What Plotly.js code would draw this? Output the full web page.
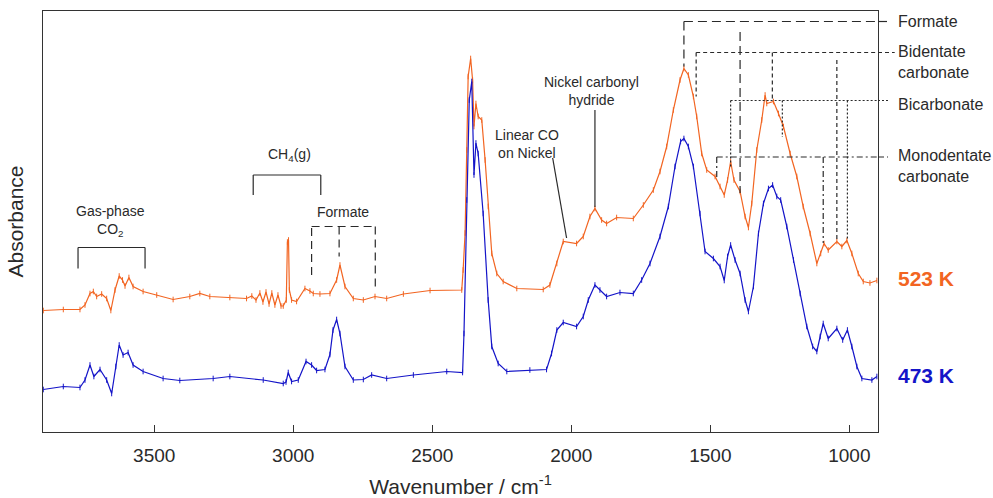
<!DOCTYPE html>
<html>
<head>
<meta charset="utf-8">
<script src="https://cdn.plot.ly/plotly-3.0.1.min.js"></script>
<style>
  html, body { margin: 0; padding: 0; background: #fff; }
  #chart { width: 993px; height: 498px; }
</style>
</head>
<body>
<div id="chart"></div>
<script>
// DRIFTS spectra recorded at two temperatures (offset for clarity)
const wave523 = [3899,3827,3767,3749,3731,3719,3707,3689,3671,3656,
  3641,3626,3614,3605,3591,3576,3540,3491,3432,3372,
  3336,3300,3228,3168,3149,3134,3120,3109,3098,3087,
  3077,3066,3055,3044,3036,3025,3021,3017,3014,3006,
  2988,2958,2940,2928,2904,2868,2844,2832,2814,2784,
  2748,2706,2664,2604,2508,2394,2389,2382,2376,2371,
  2362,2355,2350,2343,2335,2322,2310,2299,2286,2268,
  2245,2196,2101,2077,2052,2029,1981,1957,1933,1915,
  1891,1873,1837,1777,1741,1705,1681,1657,1633,1609,
  1595,1579,1561,1549,1531,1513,1483,1465,1450,1438,
  1427,1415,1393,1375,1363,1351,1333,1315,1303,1297,
  1273,1255,1237,1213,1189,1166,1141,1117,1103,1091,
  1076,1045,1027,1009,991,968,950,926,901];
const abs523 = [0.243,0.245,0.245,0.254,0.277,0.281,0.271,0.276,0.267,0.243,
  0.284,0.312,0.304,0.292,0.309,0.291,0.281,0.274,0.265,0.271,
  0.277,0.271,0.269,0.267,0.272,0.264,0.278,0.260,0.280,0.256,
  0.278,0.254,0.274,0.252,0.252,0.264,0.380,0.384,0.284,0.264,
  0.261,0.287,0.282,0.277,0.276,0.277,0.304,0.334,0.291,0.267,
  0.264,0.271,0.267,0.276,0.283,0.284,0.324,0.398,0.564,0.711,
  0.747,0.704,0.611,0.657,0.631,0.624,0.544,0.451,0.357,0.317,
  0.301,0.287,0.285,0.294,0.337,0.381,0.377,0.391,0.431,0.447,
  0.424,0.417,0.429,0.427,0.454,0.484,0.521,0.571,0.644,0.704,
  0.727,0.714,0.671,0.631,0.557,0.524,0.511,0.491,0.474,0.504,
  0.541,0.504,0.481,0.431,0.409,0.457,0.564,0.624,0.674,0.657,
  0.661,0.637,0.611,0.557,0.511,0.451,0.397,0.337,0.357,0.377,
  0.364,0.381,0.371,0.383,0.357,0.317,0.301,0.298,0.303];

const wave473 = [3899,3827,3767,3749,3731,3717,3695,3671,3653,3638,
  3626,3612,3594,3576,3540,3468,3408,3288,3228,3108,
  3036,3026,3018,3006,2982,2954,2934,2916,2886,2868,
  2857,2844,2832,2814,2784,2748,2718,2664,2568,2448,
  2391,2386,2376,2367,2358,2355,2350,2343,2335,2317,
  2299,2286,2263,2232,2149,2089,2071,2052,2029,1981,
  1957,1939,1915,1897,1873,1825,1777,1747,1717,1681,
  1651,1627,1607,1595,1579,1561,1537,1519,1489,1465,
  1450,1438,1427,1411,1393,1375,1363,1345,1327,1309,
  1291,1276,1261,1247,1225,1201,1177,1153,1132,1117,
  1105,1094,1076,1045,1024,1007,991,973,955,919,901];
const abs473 = [0.085,0.091,0.089,0.104,0.134,0.111,0.125,0.104,0.077,0.131,
  0.174,0.154,0.159,0.134,0.121,0.107,0.103,0.107,0.111,0.104,
  0.097,0.100,0.119,0.101,0.104,0.141,0.134,0.123,0.125,0.155,
  0.204,0.225,0.197,0.131,0.104,0.105,0.114,0.107,0.114,0.121,
  0.119,0.197,0.464,0.664,0.701,0.644,0.514,0.578,0.557,0.437,
  0.264,0.171,0.137,0.121,0.124,0.125,0.157,0.204,0.219,0.211,
  0.231,0.264,0.294,0.284,0.271,0.279,0.277,0.304,0.337,0.391,
  0.451,0.531,0.581,0.587,0.571,0.531,0.437,0.361,0.347,0.331,
  0.303,0.351,0.374,0.344,0.317,0.264,0.241,0.291,0.397,0.457,
  0.487,0.494,0.471,0.464,0.411,0.344,0.277,0.211,0.171,0.161,
  0.191,0.217,0.187,0.207,0.184,0.204,0.171,0.131,0.107,0.104,0.111];

const seriesNames = ['523 K', '473 K'];

// Band assignments in the carbonate / formate region (wavenumbers, cm-1)
const bandLabels = ['Formate', 'Bidentate<br>carbonate', 'Bicarbonate', 'Monodentate<br>carbonate'];
const formateBands = [1595, 1393];
const bidentateBands = [1551, 1277, 1045];
const bicarbonateBands = [1427, 1241, 1007];
const monodentateBands = [1477, 1094];

const ORANGE = '#F26522';
const BLUE = '#1414C8';
const INK = '#2a2a2a';
const FONT = 'Arial, "Liberation Sans", Helvetica, sans-serif';
const X_RANGE = [3900, 897];
const Y_RANGE = [0, 0.842];

function spectrum(x, y, name, color) {
  return {
    x: x, y: y, name: name, type: 'scatter', mode: 'lines+markers',
    line: { color: color, width: 1.2 },
    marker: { symbol: 'line-ns-open', size: 4, line: { color: color, width: 1 } },
    hoverinfo: 'x+y+name'
  };
}

const traces = [
  spectrum(wave523, abs523, seriesNames[0], ORANGE),
  spectrum(wave473, abs473, seriesNames[1], BLUE)
];

const shapes = [];
function seg(x0, y0, x1, y1, dash) {
  shapes.push({ type: 'line', xref: 'x', yref: 'y', x0: x0, y0: y0, x1: x1, y1: y1,
    line: { color: INK, width: 1.2, dash: dash || 'solid' } });
}
function bracket(x0, x1, top, bottom0, bottom1, dash) {
  seg(x0, bottom0, x0, top, dash);
  seg(x0, top, x1, top, dash);
  seg(x1, top, x1, bottom1, dash);
}

// gas-phase CO2 and CH4 brackets
bracket(3774, 3533, 0.369, 0.327, 0.327);
bracket(3144, 2901, 0.514, 0.474, 0.474);
// formate C-H region
bracket(2934, 2705, 0.411, 0.314, 0.291, '8px,5px');
seg(2835, 0.411, 2835, 0.351, '8px,5px');
// leader lines for the carbonyl labels
seg(2067, 0.548, 2017, 0.388);
seg(1915, 0.644, 1915, 0.450);

// assignment guides running out to the labels on the right
function guide(bands, level, tops, bottoms, dash, extend) {
  seg(bands[0], level, X_RANGE[1], level, dash);
  shapes.push({ type: 'line', xref: 'paper', yref: 'y', x0: 1, x1: extend, y0: level, y1: level,
    line: { color: INK, width: 1.2, dash: dash } });
  bands.forEach((b, i) => seg(b, tops[i], b, bottoms[i], dash));
}
guide(formateBands, 0.821, [0.821, 0.800], [0.731, 0.478], '9px,5px', 1.012);
guide(bidentateBands, 0.759, [0.759, 0.759, 0.744], [0.671, 0.664, 0.384], '4px,3px', 1.020);
guide(bicarbonateBands, 0.663, [0.663, 0.663, 0.663], [0.528, 0.590, 0.384], '2px,2px', 1.012);
guide(monodentateBands, 0.550, [0.550, 0.550], [0.508, 0.378], '6px,3px,2px,3px', 1.012);

const annotations = [];
function note(text, x, y, opts) {
  annotations.push(Object.assign({
    text: text, x: x, y: y, xref: 'x', yref: 'y', showarrow: false,
    xanchor: 'center', yanchor: 'middle', align: 'center',
    font: { family: FONT, size: 14, color: INK }
  }, opts || {}));
}
note('Gas-phase<br>CO<sub>2</sub>', 3656, 0.422);
note('CH<sub>4</sub>(g)', 3015, 0.554);
note('Formate', 2821, 0.440);
note('Linear CO<br>on Nickel', 2159, 0.576);
note('Nickel carbonyl<br>hydride', 1929, 0.682);

const sideY = [0.822, 0.740, 0.656, 0.533];
bandLabels.forEach((t, i) => note(t, 1.022, sideY[i], {
  xref: 'paper', xanchor: 'left', align: 'left',
  font: { family: FONT, size: 16, color: INK }
}));
note('<b>' + seriesNames[0] + '</b>', 1.022, 0.308, { xref: 'paper', xanchor: 'left',
  font: { family: FONT, size: 21, color: ORANGE } });
note('<b>' + seriesNames[1] + '</b>', 1.022, 0.114, { xref: 'paper', xanchor: 'left',
  font: { family: FONT, size: 21, color: BLUE } });

const layout = {
  width: 993, height: 498,
  margin: { l: 43, r: 115, t: 11, b: 66 },
  paper_bgcolor: '#fff', plot_bgcolor: '#fff',
  showlegend: false,
  font: { family: FONT, color: INK },
  xaxis: {
    range: X_RANGE, tick0: 0, dtick: 500,
    ticks: 'inside', ticklen: 7, tickwidth: 1.2, tickcolor: '#333',
    ticklabelstandoff: 6,
    showline: true, mirror: true, linecolor: '#333', linewidth: 1.3,
    showgrid: false, zeroline: false,
    tickfont: { family: FONT, size: 19, color: INK },
    title: { text: 'Wavenumber / cm<sup>-1</sup>', font: { family: FONT, size: 21, color: INK }, standoff: 20 }
  },
  yaxis: {
    range: Y_RANGE, showticklabels: false, ticks: '',
    showline: true, mirror: true, linecolor: '#333', linewidth: 1.3,
    showgrid: false, zeroline: false,
    title: { text: 'Absorbance', font: { family: FONT, size: 21, color: INK }, standoff: 12 }
  },
  shapes: shapes,
  annotations: annotations
};

Plotly.newPlot('chart', traces, layout, { staticPlot: true, displayModeBar: false });
</script>
</body>
</html>
